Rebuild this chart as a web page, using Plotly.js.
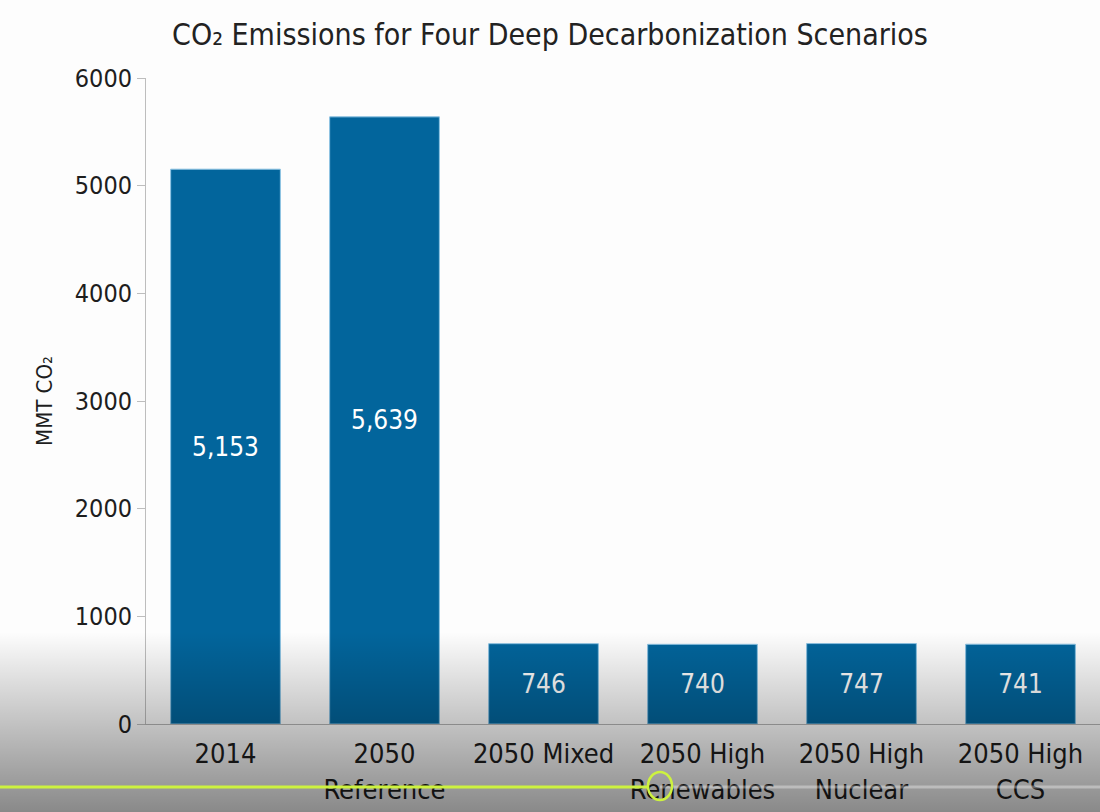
<!DOCTYPE html>
<html>
<head>
<meta charset="utf-8">
<script src="https://cdn.plot.ly/plotly-3.0.1.min.js"></script>
<style>
  html, body { margin: 0; padding: 0; background: #fdfdfd; }
  #wrap { position: relative; width: 1100px; height: 812px; overflow: hidden; }
  #chart { position: absolute; left: 0; top: 0; width: 1100px; height: 812px; }
  #shade {
    position: absolute; left: 0; top: 632px; width: 1100px; height: 180px;
    background: linear-gradient(to bottom, rgba(0,0,0,0) 0%, rgba(0,0,0,0.46) 100%);
    pointer-events: none;
  }
  #bar { position: absolute; left: 0; top: 0; pointer-events: none; }
</style>
</head>
<body>
<div id="wrap">
  <div id="chart"></div>
  <div id="shade"></div>
  <svg id="bar" width="1100" height="812">
    <line x1="660" y1="787" x2="1100" y2="787" stroke="rgba(255,255,255,0.35)" stroke-width="3"/>
    <line x1="0" y1="787" x2="648" y2="787" stroke="#cdf23f" stroke-width="3"/>
    <ellipse cx="660" cy="786" rx="12" ry="14" fill="none" stroke="#cdf23f" stroke-width="2.5"/>
  </svg>
</div>
<script>
// Scenario names (two-line tick labels) and emissions in million metric tons of CO2
const scenarios = [
  "2014",
  "2050<br>Reference",
  "2050 Mixed",
  "2050 High<br>Renewables",
  "2050 High<br>Nuclear",
  "2050 High<br>CCS"
];
const emissions = [5153, 5639, 746, 740, 747, 741];
const yTicks = [0, 1000, 2000, 3000, 4000, 5000, 6000];

const narrow = "'DejaVu Sans Condensed', 'Open Sans', sans-serif";

const trace = {
  type: "bar",
  x: scenarios,
  y: emissions,
  marker: { color: "#02659c", line: { color: "#8cc3e3", width: 1 } },
  texttemplate: "%{y:,}",
  textposition: "inside",
  insidetextanchor: "middle",
  textfont: { color: "#ffffff", size: 26, family: narrow },
  hoverinfo: "skip"
};

const layout = {
  width: 1100,
  height: 812,
  paper_bgcolor: "#fdfdfd",
  plot_bgcolor: "#fdfdfd",
  margin: { l: 146, r: 0, t: 78, b: 88 },
  bargap: 0.31,
  showlegend: false,
  title: {
    text: "CO₂ Emissions for Four Deep Decarbonization Scenarios",
    font: { family: narrow, size: 30, color: "#222222" },
    x: 0.5, xref: "container", xanchor: "center",
    y: 0.957, yref: "container", yanchor: "middle"
  },
  xaxis: {
    type: "category",
    range: [-0.5, 5.5],
    showline: true, linecolor: "#b5b5b5", linewidth: 1,
    ticks: "", showgrid: false, zeroline: false,
    ticklabelstandoff: 6,
    tickfont: { family: narrow, size: 27, color: "#1e1e1e" },
    fixedrange: true
  },
  yaxis: {
    range: [0, 6000],
    tickvals: yTicks,
    ticktext: yTicks.map(String),
    showline: true, linecolor: "#bdbdbd", linewidth: 1,
    ticks: "outside", ticklen: 8, tickcolor: "#bdbdbd", tickwidth: 1,
    showgrid: false, zeroline: false,
    tickfont: { family: narrow, size: 25, color: "#1e1e1e" },
    title: {
      text: "MMT CO₂",
      font: { family: narrow, size: 22, color: "#1e1e1e" },
      standoff: 16
    },
    fixedrange: true
  }
};

Plotly.newPlot("chart", [trace], layout, { displayModeBar: false, staticPlot: true });
</script>
</body>
</html>
